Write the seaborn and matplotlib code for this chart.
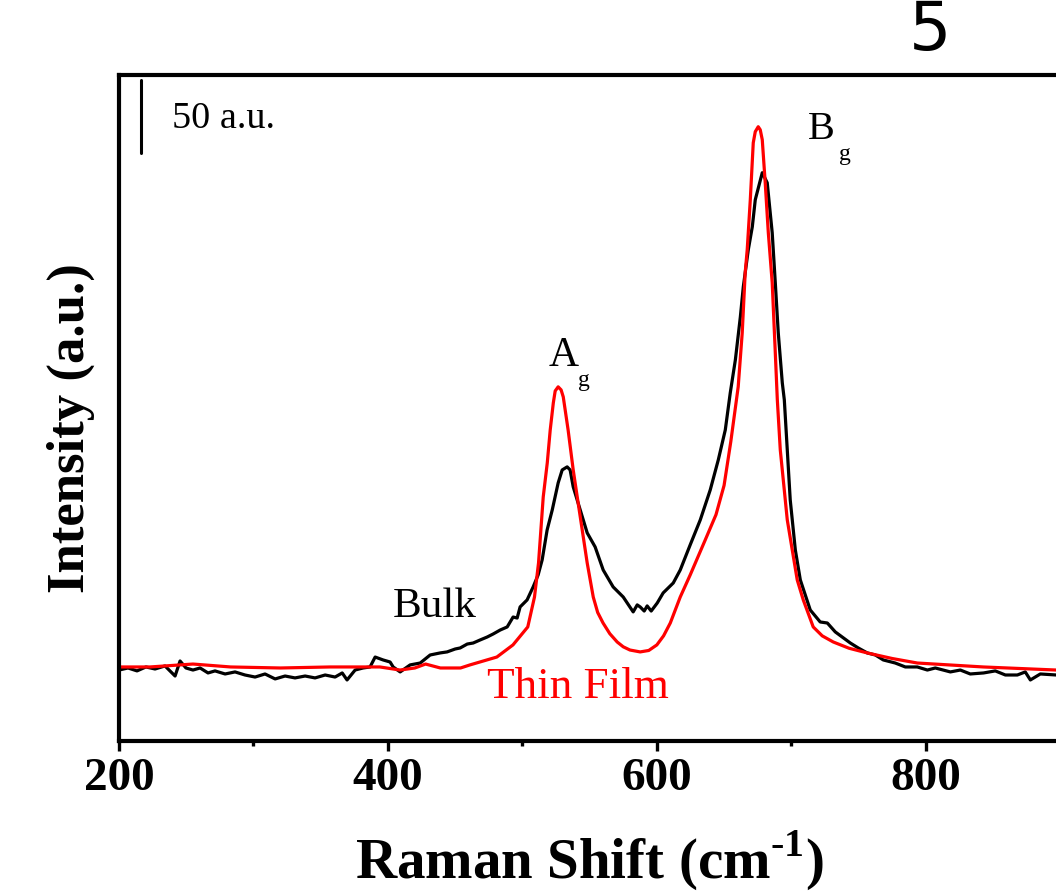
import matplotlib
matplotlib.use("Agg")
import matplotlib.pyplot as plt
import seaborn as sns
import pandas as pd

# ---------------- data ----------------
bulk_x = [200, 206.7, 213.4, 220, 226.8, 234.2, 241.7, 245.4, 249.8, 255, 260.3, 266.2,
          271.4, 278.9, 286.3, 293.7, 301.2, 308.6, 316.1, 323.5, 330.9, 338.4, 345.8,
          353.3, 360.7, 366, 369.6, 375.6, 381.5, 386.7, 390.5, 396.4, 401.6, 403.9,
          409.1, 416.5, 424, 431.4, 438.8, 444, 450, 453.7, 459, 463.4, 468.6, 473.8,
          478.3, 483.5, 488.7, 493.1, 496.1, 498.3, 503.5, 508, 511.7, 514.7, 518.4,
          522.2, 526.6, 529.6, 533.3, 535.5, 537.8, 543, 548.2, 554.1, 560.1, 567.5,
          575, 582.4, 585.4, 587.6, 590.6, 592.8, 595.8, 600.3, 604.7, 612.2, 617.4,
          624.8, 632.3, 639.7, 645.7, 650.9, 654.6, 658.4, 662.1, 664.3, 668, 671,
          673.2, 678.4, 682.1, 685.8, 688.1, 690.3, 693.3, 694.8, 697, 699.2, 703,
          706.7, 714.1, 721.5, 726.8, 732.7, 738.7, 743.9, 749.8, 756.5, 762.5, 768.4,
          777.3, 784.8, 793.7, 801.2, 807.1, 818.3, 825.7, 833.1, 843, 851.7, 859.2,
          868.1, 874, 877.8, 885.2, 897.1]
bulk_y = [48.6, 50.0, 48.0, 50.7, 49.3, 51.4, 44.5, 54.8, 50.0, 48.6, 50.0, 46.6,
          48.0, 45.9, 47.3, 45.2, 43.8, 45.9, 42.5, 44.5, 43.2, 44.5, 43.2,
          45.2, 43.8, 46.6, 41.8, 48.6, 50.0, 50.7, 57.5, 55.5, 54.1, 50.7,
          47.3, 52.1, 53.4, 58.9, 60.3, 61.0, 63.0, 63.7, 66.4, 67.1, 69.2, 71.2,
          73.3, 76.0, 78.1, 84.9, 84.2, 91.8, 96.6, 105.5, 113.7, 124.0, 144.5,
          158.2, 176.7, 185.6, 187.7, 185.6, 174.0, 158.2, 142.5, 132.9, 117.1, 105.5,
          98.6, 88.4, 93.2, 91.8, 89.0, 92.5, 89.0, 94.5, 101.4, 108.2, 117.1,
          134.3, 151.4, 171.9, 192.5, 213.0, 238.4, 261.0, 290.4, 311.0, 336.3, 352.1,
          370.6, 389.1, 382.2, 348.0, 313.7, 279.5, 245.2, 233.6, 199.3, 165.1, 130.8,
          110.3, 89.7, 81.5, 80.8, 74.7, 70.6, 67.1, 63.7, 60.3, 58.9, 55.5,
          53.4, 50.7, 50.7, 48.6, 50.0, 47.3, 48.6, 45.9, 46.6, 48.0, 45.2,
          45.2, 47.3, 41.8, 45.9, 45.2]

film_x = [200, 223, 255, 283, 320, 357, 394, 409, 420, 428, 439, 454, 461, 471, 481,
          493, 504, 509, 512, 515.5, 518.5, 520.7, 523, 524.4, 526.6, 528.8, 530.4,
          534, 537.8, 540.8, 544.5, 548.2, 552.7, 556, 560, 565, 570.5, 575, 580,
          587.6, 594, 600, 605, 610, 617.4, 624.8, 636, 644, 650, 655, 660.5, 663.5,
          665.7, 667.2, 669.5, 671.7, 673.2, 675.4, 676.9, 678.4, 680.6, 682.9, 685.8,
          688, 689.6, 691.8, 697, 704.4, 708.9, 716.3, 723, 731.2, 743, 756.5, 775,
          793.7, 842.8, 897]
film_y = [50.7, 50.7, 52.7, 50.7, 50.0, 50.7, 50.7, 48.6, 50.0, 52.7, 50.0, 50.0, 52.1,
          54.8, 57.5, 65.8, 78.1, 98.6, 121.9, 167.1, 190.4, 213.0, 231.5, 239.7,
          242.5, 240.4, 235.6, 213.0, 185.6, 167.1, 144.5, 121.9, 98.6, 88.0, 80.8,
          73.5, 67.8, 64.5, 62.3, 61.0, 62.0, 65.8, 72.0, 80.8, 98.6, 113.7, 137.7,
          155.0, 175.0, 205.0, 242.5, 279.5, 320.6, 336.3, 370.6, 409.6, 417.2, 420.6,
          418.5, 411.7, 382.2, 348.0, 313.7, 267.8, 233.6, 199.3, 151.4, 110.3, 96.6,
          78.1, 72.0, 67.8, 63.5, 60.3, 56.5, 53.4, 50.7, 48.6]

x_ticks = [200, 400, 600, 800]
x_tick_labels = ["200", "400", "600", "800"]
scale_bar = 50  # a.u.

# ---------------- styling ----------------
sns.set_style("ticks")
plt.rcParams["font.family"] = ["Liberation Serif", "DejaVu Serif"]
plt.rcParams["mathtext.fontset"] = "custom"
plt.rcParams["mathtext.rm"] = "Liberation Serif:bold"
plt.rcParams["mathtext.bf"] = "Liberation Serif:bold"
for k in ["text.color", "axes.labelcolor", "xtick.color", "ytick.color", "axes.edgecolor"]:
    plt.rcParams[k] = "black"

fig = plt.figure(figsize=(10.56, 8.93), dpi=100)
ax = fig.add_axes([0.1127, 0.1702, 0.8913, 0.7458])

df_bulk = pd.DataFrame({"x": bulk_x, "y": bulk_y})
df_film = pd.DataFrame({"x": film_x, "y": film_y})
sns.lineplot(data=df_bulk, x="x", y="y", ax=ax, color="black", lw=2.3, sort=False)
sns.lineplot(data=df_film, x="x", y="y", ax=ax, color="#ff0000", lw=2.3, sort=False)

ax.set_xlim(200, 900)
ax.set_ylim(0, 456)

for s in ax.spines.values():
    s.set_linewidth(3.0)
    s.set_color("black")

ax.set_xticks(x_ticks)
ax.set_xticklabels(x_tick_labels, fontsize=34, fontweight="bold")
ax.set_xticks([300, 500, 700, 900], minor=True)
ax.tick_params(axis="x", which="major", direction="out", length=7.5, width=2.4, pad=5)
ax.tick_params(axis="x", which="minor", direction="out", length=3.8, width=2.4)
ax.set_yticks([])

ax.set_xlabel(r"Raman Shift (cm$^{\text{-1}}$)", fontsize=41, fontweight="bold", labelpad=20)
ax.set_ylabel("Intensity (a.u.)", fontsize=38, fontweight="bold")
ax.yaxis.set_label_coords(-0.026, 0.47)

# scale bar
ax.plot([216.4, 216.4], [452.8, 452.8 - scale_bar], color="black", lw=2.2)
ax.text(239.4, 426, "50 a.u.", fontsize=27.5, va="center", ha="left")

# annotations
ax.text(403.9, 92, "Bulk", fontsize=31, va="center", ha="left")
ax.text(473.8, 37, "Thin Film", fontsize=32.5, va="center", ha="left", color="#ff0000")
ax.text(530.5, 264, "A", fontsize=30, va="center", ha="center")
ax.text(546, 247, "g", fontsize=17, va="center", ha="center")
ax.text(722.3, 418.5, "B", fontsize=29, va="center", ha="center")
ax.text(740.1, 401.4, "g", fontsize=17, va="center", ha="center")

# panel label at top (cropped in the reference)
fig.text(0.881, 1 - 50 / 893, "5", fontsize=48, ha="center", va="baseline",
         family=["DejaVu Sans"])

fig.savefig("out.png", dpi=100)
